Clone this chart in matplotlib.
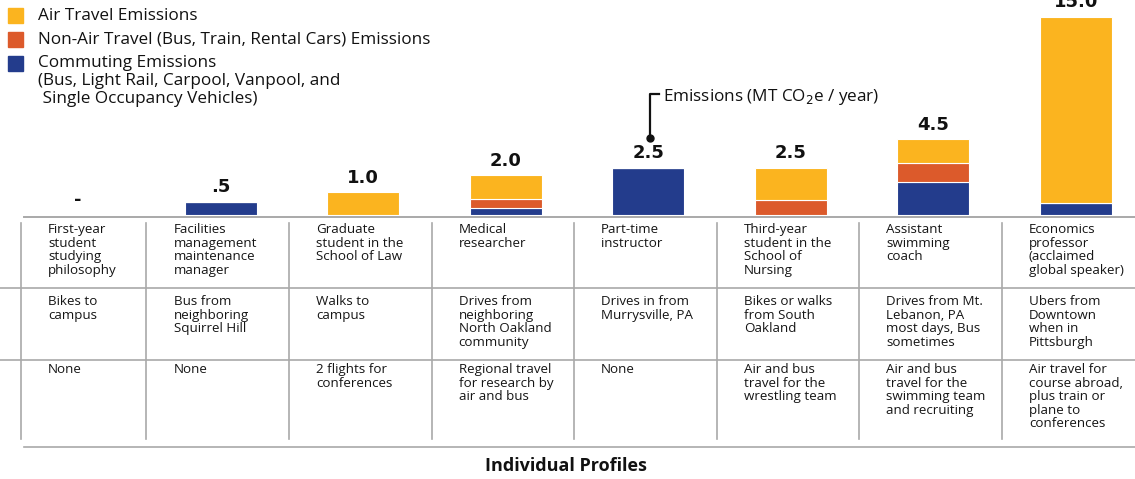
import numpy as np
import matplotlib
matplotlib.use('Agg')
import matplotlib.pyplot as plt
from matplotlib.patches import Rectangle

plt.rcParams['font.family'] = ['Open Sans', 'DejaVu Sans']

# data
profiles = ['First-year\nstudent\nstudying\nphilosophy',
            'Facilities\nmanagement\nmaintenance\nmanager',
            'Graduate\nstudent in the\nSchool of Law',
            'Medical\nresearcher',
            'Part-time\ninstructor',
            'Third-year\nstudent in the\nSchool of\nNursing',
            'Assistant\nswimming\ncoach',
            'Economics\nprofessor\n(acclaimed\nglobal speaker)']
commute_desc = ['Bikes to\ncampus',
                'Bus from\nneighboring\nSquirrel Hill',
                'Walks to\ncampus',
                'Drives from\nneighboring\nNorth Oakland\ncommunity',
                'Drives in from\nMurrysville, PA',
                'Bikes or walks\nfrom South\nOakland',
                'Drives from Mt.\nLebanon, PA\nmost days, Bus\nsometimes',
                'Ubers from\nDowntown\nwhen in\nPittsburgh']
travel_desc = ['None',
               'None',
               '2 flights for\nconferences',
               'Regional travel\nfor research by\nair and bus',
               'None',
               'Air and bus\ntravel for the\nwrestling team',
               'Air and bus\ntravel for the\nswimming team\nand recruiting',
               'Air travel for\ncourse abroad,\nplus train or\nplane to\nconferences']
commuting = np.array([0.0, 0.5, 0.0, 0.25, 2.5, 0.0, 1.6, 0.45])
non_air = np.array([0.0, 0.0, 0.0, 0.4, 0.0, 0.6, 1.2, 0.0])
air = np.array([0.0, 0.0, 1.0, 1.35, 0.0, 1.9, 1.7, 14.55])
total_labels = ['-', '.5', '1.0', '2.0', '2.5', '2.5', '4.5', '15.0']

legend_labels = ['Air Travel Emissions',
                 'Non-Air Travel (Bus, Train, Rental Cars) Emissions',
                 'Commuting Emissions\n(Bus, Light Rail, Carpool, Vanpool, and\n Single Occupancy Vehicles)']
colors = ['#fbb41f', '#dc5a2b', '#233c8c']

W, H = 1135, 479
fig = plt.figure(figsize=(W / 100, H / 100), dpi=100)

x = np.arange(len(profiles))
xlim = (-78 / 142.57, (W - 78) / 142.57)

# bars drawn on a compressed (power 0.8) scale, as in the original graphic
ax = fig.add_axes([0, (H - 215) / H, 1, 215 / H])
ax.set_yscale('function', functions=(lambda v: np.sign(v) * np.abs(v) ** 0.8,
                                     lambda v: np.sign(v) * np.abs(v) ** 1.25))
bw = 0.505
ax.bar(x, commuting, bw, color=colors[2], edgecolor='white', linewidth=0.8)
ax.bar(x, non_air, bw, bottom=commuting, color=colors[1], edgecolor='white', linewidth=0.8)
ax.bar(x, air, bw, bottom=commuting + non_air, color=colors[0], edgecolor='white', linewidth=0.8)
totals = commuting + non_air + air
for i, lab in enumerate(total_labels):
    ax.annotate(lab, (x[i], totals[i]), xytext=(0, 4), textcoords='offset points',
                ha='center', va='bottom', fontsize=13, fontweight='bold',
                family=['DejaVu Sans'], color='#111111', annotation_clip=False)
ax.set_xlim(*xlim)
ax.set_ylim(0, 16.6)
ax.axis('off')

# table area, y in pixels from the top
tab = fig.add_axes([0, 0, 1, (H - 215) / H])
tab.set_xlim(*xlim)
tab.set_ylim(H, 215)
tab.axis('off')
gc = '#a9a9a9'
x0 = 24 / 142.57 + xlim[0]
tab.plot([x0, xlim[1]], [216.5, 216.5], color=gc, lw=1.4)
tab.plot([x0, xlim[1]], [447, 447], color=gc, lw=1.2)
for yy in [288, 360]:
    tab.plot(xlim, [yy, yy], color=gc, lw=1.2)
dividers = [-0.40] + list(x[1:] - 0.52)
for d in dividers:
    tab.plot([d, d], [223, 439], color=gc, lw=1.2)
for i in range(len(profiles)):
    tx = dividers[i] + 0.19
    for yy, txt in zip([223, 295, 363], [profiles[i], commute_desc[i], travel_desc[i]]):
        tab.text(tx, yy, txt, ha='left', va='top', fontsize=9.6,
                 linespacing=1.06, color='#151515')

fig.text(566 / W, 1 - 466 / H, 'Individual Profiles', ha='center', va='center',
         fontsize=13, fontweight='bold', color='#111111')

# overlay in pixel coordinates for legend and callout
ov = fig.add_axes([0, 0, 1, 1])
ov.set_xlim(0, W)
ov.set_ylim(H, 0)
ov.axis('off')
ov.patch.set_alpha(0)
for k, (lab, c) in enumerate(zip(legend_labels, colors)):
    y0 = 8 + k * 24
    ov.add_patch(Rectangle((8, y0), 15, 15, color=c))
    if k == 2:
        ov.text(38, y0 - 1, lab, ha='left', va='top', fontsize=12.3,
                linespacing=1.15, color='#111111')
    else:
        ov.text(38, y0 + 7.5, lab, ha='left', va='center', fontsize=12.3,
                color='#111111')

ov.plot([650, 650, 659], [138, 94, 94], color='#111111', lw=1.6)
ov.plot(650, 138, 'o', color='#111111', ms=5)
ov.text(663, 97, 'Emissions (MT CO$_2$e / year)', ha='left', va='center',
        fontsize=12.3, color='#111111')

fig.savefig('out.png', dpi=100)
